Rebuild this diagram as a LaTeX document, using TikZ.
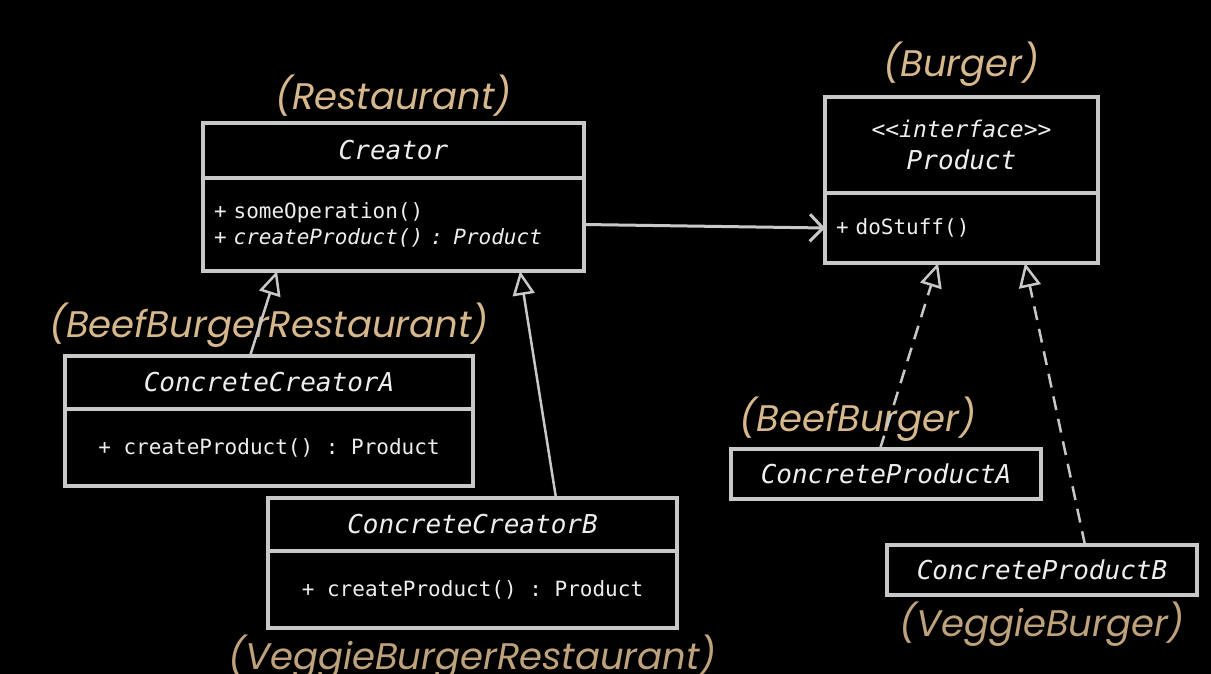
\documentclass[tikz,border=0pt]{standalone}
\usepackage{fontspec}
\setmonofont{DejaVu Sans Mono}
\newfontfamily\tagfont{Poppins}
\usetikzlibrary{arrows.meta, positioning}
\definecolor{bg}{RGB}{0,0,0}
\definecolor{edge}{RGB}{200,200,200}
\definecolor{ink}{RGB}{238,238,238}
\definecolor{tag}{RGB}{214,184,140}
\definecolor{tagdim}{RGB}{190,162,124}

\begin{document}
\begin{tikzpicture}[
  x=1pt, y=-1pt,
  classhead/.style={rectangle, draw=edge, line width=3.5pt, inner sep=0pt, outer sep=0pt,
    minimum width=#1, text=ink, font=\ttfamily\itshape\fontsize{26}{31}\selectfont, align=center},
  classbody/.style={rectangle, draw=edge, line width=3.5pt, inner sep=0pt, outer sep=0pt,
    minimum width=#1, text=ink, font=\ttfamily\fontsize{21}{26}\selectfont, align=center},
  rolelabel/.style={inner sep=0pt, text=tag, font=\tagfont\itshape\fontsize{37}{40}\selectfont},
  assoc/.style={draw=edge, line width=3pt, -{Straight Barb[length=13pt, width=27pt]}},
  inherit/.style={draw=edge, line width=2.5pt, -{Triangle[open, length=24pt, width=22pt]}},
  realize/.style={inherit, dash pattern=on 14pt off 9pt}
]
\path[use as bounding box, fill=bg] (0,0) rectangle (1211,674);

% Creator side
\node[classhead=381pt, minimum height=55pt] (creatorhead) at (393.5,150.5) {Creator};
\node[classbody=381pt, minimum height=93pt, align=left, text width=359pt, below=0pt of creatorhead] (creatorbody)
  {+ someOperation()\\+ \textit{createProduct() : Product}};

\node[classhead=408pt, minimum height=53pt] (ccahead) at (269,382.5) {ConcreteCreatorA};
\node[classbody=408pt, minimum height=77pt, below=0pt of ccahead] (ccabody) {+ createProduct() : Product};

\node[classhead=409pt, minimum height=53pt] (ccbhead) at (472.5,524.5) {ConcreteCreatorB};
\node[classbody=409pt, minimum height=77pt, below=0pt of ccbhead] (ccbbody) {+ createProduct() : Product};

% Product side
\node[classhead=273pt, minimum height=96pt] (producthead) at (961.5,145)
  {{\fontsize{23}{28}\selectfont <<interface>>}\\[1pt]Product};
\node[classbody=273pt, minimum height=70pt, align=left, text width=251pt, below=0pt of producthead] (productbody)
  {+ doStuff()};

\node[classhead=310pt, minimum height=50pt] (cpa) at (886,474) {ConcreteProductA};
\node[classhead=310pt, minimum height=50pt] (cpb) at (1042,570) {ConcreteProductB};

% Role labels
\node[rolelabel, above=6pt of creatorhead] (restaurant) {(Restaurant)};
\node[rolelabel, above=10pt of producthead] (burger) {(Burger)};
\node[rolelabel, above=8pt of ccahead] (beefrestaurant) {(BeefBurgerRestaurant)};
\node[rolelabel, text=tagdim, below=7pt of ccbbody] (veggierestaurant) {(VeggieBurgerRestaurant)};
\node[rolelabel, above=7pt of cpa, xshift=-28pt] (beefburger) {(BeefBurger)};
\node[rolelabel, text=tagdim, below=7pt of cpb] (veggieburger) {(VeggieBurger)};

% Relations
\draw[assoc] (creatorbody.east) -- (productbody.west);
\draw[inherit] ([xshift=-19pt]ccahead.north) -- ([xshift=-116.5pt]creatorbody.south);
\draw[inherit] ([xshift=83.5pt]ccbhead.north) -- ([xshift=126.5pt]creatorbody.south);
\draw[realize] ([xshift=-6pt]cpa.north) -- ([xshift=-23.5pt]productbody.south);
\draw[realize] ([xshift=43pt]cpb.north) -- ([xshift=63.5pt]productbody.south);
\end{tikzpicture}
\end{document}
